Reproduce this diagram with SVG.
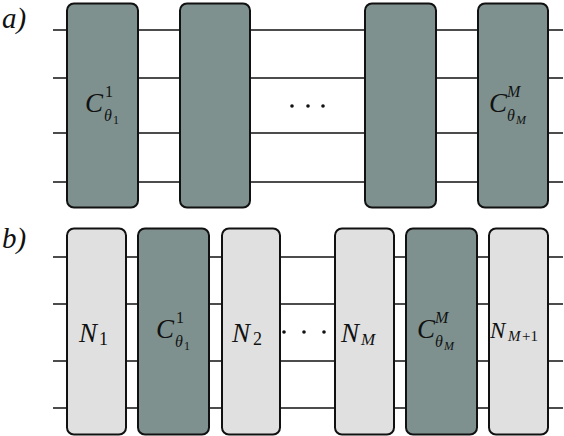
<svg xmlns="http://www.w3.org/2000/svg" width="564" height="436" viewBox="0 0 564 436">
<style>
.w{stroke:#111;stroke-width:1.6;fill:none}
.d{fill:#7e918f;stroke:#111;stroke-width:2}
.l{fill:#e0e0e0;stroke:#111;stroke-width:2}
.t{font-family:"Liberation Serif","DejaVu Serif",serif;font-style:italic;fill:#111}
.n{font-family:"Liberation Serif","DejaVu Serif",serif;fill:#111}
.dot{fill:#111}
</style>
<rect width="564" height="436" fill="#fff"/>
<text class="t" x="2" y="28" font-size="29">a)</text>
<text class="t" x="2" y="248" font-size="29">b)</text>
<g id="connectors">
<line class="w" x1="53" y1="30" x2="563" y2="30"/>
<line class="w" x1="53" y1="78" x2="563" y2="78"/>
<line class="w" x1="53" y1="133" x2="563" y2="133"/>
<line class="w" x1="53" y1="182" x2="563" y2="182"/>
<line class="w" x1="53" y1="257" x2="563" y2="257"/>
<line class="w" x1="53" y1="304" x2="563" y2="304"/>
<line class="w" x1="53" y1="361" x2="563" y2="361"/>
<line class="w" x1="53" y1="408" x2="563" y2="408"/>
</g>
<g id="a_C1">
<rect class="d" x="67" y="3.5" width="71" height="204" rx="7"/>
<text class="t" x="85" y="112" font-size="27">C</text>
<text class="n" x="105" y="97" font-size="16">1</text>
<text class="t" x="104" y="121" font-size="16">θ</text>
<text class="n" x="113" y="124" font-size="12">1</text>
</g>
<g id="a_C2"><rect class="d" x="180" y="3.5" width="70" height="204" rx="7"/></g>
<g id="a_dots">
<circle class="dot" cx="292" cy="106" r="1.8"/>
<circle class="dot" cx="308" cy="106" r="1.8"/>
<circle class="dot" cx="323" cy="106" r="1.8"/>
</g>
<g id="a_C3"><rect class="d" x="365" y="3.5" width="71" height="204" rx="7"/></g>
<g id="a_CM">
<rect class="d" x="478" y="3.5" width="70" height="204" rx="7"/>
<text class="t" x="489" y="112" font-size="27">C</text>
<text class="t" x="507" y="97" font-size="16">M</text>
<text class="t" x="507" y="121" font-size="16">θ</text>
<text class="t" x="516" y="124" font-size="12">M</text>
</g>
<g id="b_N1">
<rect class="l" x="67" y="228.5" width="59" height="206" rx="7"/>
<text class="t" x="79" y="342" font-size="27">N</text>
<text class="n" x="99" y="345" font-size="18">1</text>
</g>
<g id="b_C1">
<rect class="d" x="138" y="228.5" width="71" height="206" rx="7"/>
<text class="t" x="156" y="338" font-size="27">C</text>
<text class="n" x="176" y="323" font-size="16">1</text>
<text class="t" x="175" y="347" font-size="16">θ</text>
<text class="n" x="184" y="350" font-size="12">1</text>
</g>
<g id="b_N2">
<rect class="l" x="222" y="228.5" width="58" height="206" rx="7"/>
<text class="t" x="232" y="342" font-size="27">N</text>
<text class="n" x="253" y="345" font-size="18">2</text>
</g>
<g id="b_dots">
<circle class="dot" cx="284" cy="332" r="1.8"/>
<circle class="dot" cx="304" cy="332" r="1.8"/>
<circle class="dot" cx="324" cy="332" r="1.8"/>
</g>
<g id="b_NM">
<rect class="l" x="335" y="228.5" width="59" height="206" rx="7"/>
<text class="t" x="341" y="342" font-size="27">N</text>
<text class="t" x="361" y="345" font-size="17">M</text>
</g>
<g id="b_CM">
<rect class="d" x="406" y="228.5" width="71" height="206" rx="7"/>
<text class="t" x="417" y="338" font-size="27">C</text>
<text class="t" x="435" y="323" font-size="16">M</text>
<text class="t" x="435" y="347" font-size="16">θ</text>
<text class="t" x="444" y="350" font-size="12">M</text>
</g>
<g id="b_NM1">
<rect class="l" x="489" y="228.5" width="59" height="206" rx="7"/>
<text class="t" x="490" y="338" font-size="23">N</text>
<text class="t" x="508" y="341" font-size="15">M</text>
<text class="n" x="522" y="341" font-size="15">+1</text>
</g>
</svg>
